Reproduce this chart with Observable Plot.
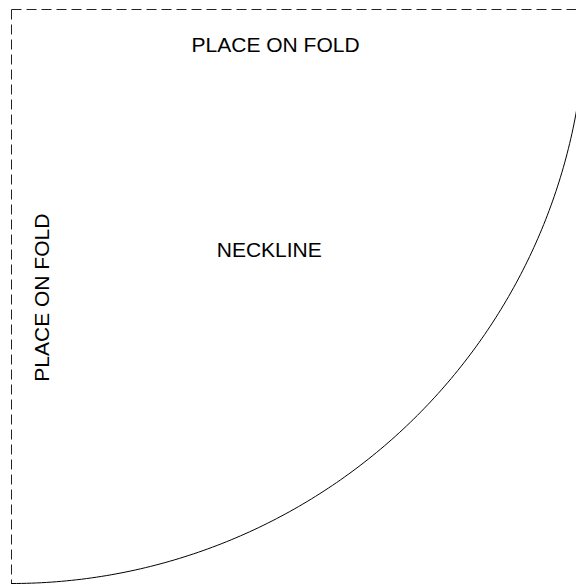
<!DOCTYPE html>
<html><head><meta charset="utf-8">
<script src="https://cdn.jsdelivr.net/npm/d3@7"></script>
<script src="https://cdn.jsdelivr.net/npm/@observablehq/plot@0.6"></script>
<style>body{margin:0;background:#fff}</style>
</head><body><div id="chart"></div>
<script>
// Pattern piece: quarter-circle neckline of radius 1 (units), fold lines along top and left
const radius = 1;
const foldLines = [
  {name: "top", x1: 0, y1: 0, x2: 1, y2: 0},
  {name: "left", x1: 0, y1: 0, x2: 0, y2: 1}
];
const labels = [
  {text: "PLACE ON FOLD", x: 0.46, y: 0.062, rotate: 0},
  {text: "NECKLINE", x: 0.449, y: 0.42, rotate: 0},
  {text: "PLACE ON FOLD", x: 0.054, y: 0.502, rotate: -90}
];
const angles = d3.range(0, 90.5, 0.5);
const arc = angles.map(a => ({x: radius * Math.sin(a * Math.PI / 180), y: radius * Math.cos(a * Math.PI / 180)}));

const W = 576, H = 585, mL = 11, mT = 9, mB = 2;
const pxPerUnit = (H - mT - mB) / radius;
const xMax = (W - mL) / pxPerUnit;

const chart = Plot.plot({
  width: W, height: H,
  marginLeft: mL, marginTop: mT, marginBottom: mB, marginRight: 0,
  x: {domain: [0, xMax], axis: null},
  y: {domain: [0, radius], reverse: true, axis: null},
  style: {fontFamily: "Liberation Sans, Arial, sans-serif", background: "#fff", overflow: "hidden"},
  marks: [
    Plot.link(foldLines, {x1: "x1", y1: "y1", x2: "x2", y2: "y2", stroke: "#222", strokeWidth: 1, strokeDasharray: "10,5"}),
    Plot.line(arc, {x: "x", y: "y", stroke: "#000", strokeWidth: 1}),
    Plot.text(labels, {x: "x", y: "y", text: "text", rotate: "rotate", fontSize: 21, fill: "#000"})
  ]
});
document.getElementById("chart").append(chart);
</script></body></html>
